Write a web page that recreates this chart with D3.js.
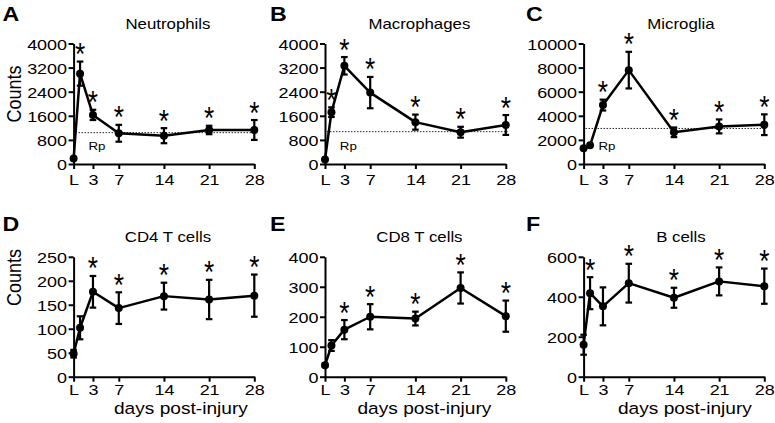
<!DOCTYPE html>
<html><head><meta charset="utf-8">
<script src="https://cdn.jsdelivr.net/npm/d3@7"></script>
<style>html,body{margin:0;padding:0;background:#fff;} svg{display:block;}</style>
</head><body><svg id="c" width="775" height="423"></svg>
<script>
// ---- data ----
const days = [0, 1, 3, 7, 14, 21, 28];
const xTickValues = [0, 3, 7, 14, 21, 28];
const xTickLabels = ["L", "3", "7", "14", "21", "28"];

const neutrophilsMean = [180, 3000, 1630, 1020, 940, 1130, 1130];
const neutrophilsErr  = [0, 400, 170, 280, 250, 140, 330];
const neutrophilsSig  = [0, 1, 1, 1, 1, 1, 1];
const neutrophilsRp   = 1040;

const macrophagesMean = [150, 1720, 3260, 2370, 1390, 1055, 1295];
const macrophagesErr  = [0, 160, 290, 520, 250, 180, 330];
const macrophagesSig  = [0, 1, 1, 1, 1, 1, 1];
const macrophagesRp   = 1073;

const microgliaMean = [1300, 1550, 4890, 7790, 2630, 3120, 3260];
const microgliaErr  = [0, 0, 450, 1520, 400, 580, 860];
const microgliaSig  = [0, 0, 1, 1, 1, 1, 1];
const microgliaRp   = 2950;

const cd4Mean = [48, 102, 177, 143, 168, 161, 169];
const cd4Err  = [8, 24, 33, 33, 28, 41, 44];
const cd4Sig  = [0, 0, 1, 1, 1, 1, 1];

const cd8Mean = [38, 104, 157, 200, 194, 296, 202];
const cd8Err  = [5, 18, 32, 42, 23, 52, 52];
const cd8Sig  = [0, 0, 1, 1, 1, 1, 1];

const bMean = [160, 418, 352, 468, 395, 477, 453];
const bErr  = [50, 80, 95, 97, 50, 70, 88];
const bSig  = [0, 1, 0, 1, 1, 1, 1];

const yTicksNeutrophils = [0, 800, 1600, 2400, 3200, 4000];
const yTicksMacrophages = [0, 800, 1600, 2400, 3200, 4000];
const yTicksMicroglia = [0, 2000, 4000, 6000, 8000, 10000];
const yTicksCd4 = [0, 50, 100, 150, 200, 250];
const yTicksCd8 = [0, 100, 200, 300, 400];
const yTicksB = [0, 200, 400, 600];

const titles = ["Neutrophils", "Macrophages", "Microglia", "CD4 T cells", "CD8 T cells", "B cells"];
const letters = ["A", "B", "C", "D", "E", "F"];
const xAxisTitle = "days post-injury";
const yAxisTitle = "Counts";
const rpLabel = "Rp";

// ---- layout ----
const svg = d3.select('#c');
const FONT = "'Liberation Sans', Arial, Helvetica, sans-serif";
const SX = 1.16;
const TICK_FS = 15.5;
const cols = [[73.6, 254.3], [325, 505.8], [583.6, 764.3]];
const rows = [[164, 43.5], [376.7, 256.8]];
const titleDx = [4, 4, 7];
const xTitleDx = [17, 9, 11];
const letterX = [2.5, 270, 526];
const letterY = [20.7, 230.7];
const titleY = [29.3, 241.7];
const xLabelDy = [20.5, 18.5];

const panels = [
  {mean: neutrophilsMean, err: neutrophilsErr, sig: neutrophilsSig, ticks: yTicksNeutrophils, rp: neutrophilsRp},
  {mean: macrophagesMean, err: macrophagesErr, sig: macrophagesSig, ticks: yTicksMacrophages, rp: macrophagesRp},
  {mean: microgliaMean, err: microgliaErr, sig: microgliaSig, ticks: yTicksMicroglia, rp: microgliaRp},
  {mean: cd4Mean, err: cd4Err, sig: cd4Sig, ticks: yTicksCd4},
  {mean: cd8Mean, err: cd8Err, sig: cd8Sig, ticks: yTicksCd8},
  {mean: bMean, err: bErr, sig: bSig, ticks: yTicksB}
];

function label(g, x, y, str, size, opts = {}) {
  return g.append('text')
    .attr('transform', `translate(${x},${y}) scale(${opts.sx || SX},1)` + (opts.rot ? ` rotate(${opts.rot})` : ''))
    .attr('text-anchor', opts.anchor || 'middle')
    .style('font-family', FONT)
    .style('font-size', size + 'px')
    .style('font-weight', opts.bold ? 'bold' : 'normal')
    .attr('fill', '#000')
    .text(str);
}

panels.forEach((p, i) => {
  const col = i % 3, row = Math.floor(i / 3);
  const x = d3.scaleLinear().domain([0, 28]).range(cols[col]);
  const y = d3.scaleLinear().domain([0, d3.max(p.ticks)]).range(rows[row]);
  const g = svg.append('g');

  // axes
  const ya = g.append('g').attr('transform', `translate(${x(0)},0)`)
    .call(d3.axisLeft(y).tickValues(p.ticks).tickSize(5).tickSizeOuter(0).tickFormat(d3.format('d')));
  ya.select('.domain').attr('stroke', '#000').attr('stroke-width', 2);
  ya.selectAll('.tick line').attr('stroke', '#000').attr('stroke-width', 2);
  ya.selectAll('.tick text').attr('x', null).attr('dy', null)
    .attr('transform', `translate(-6.5,5.5) scale(${SX},1)`)
    .style('font-family', FONT).style('font-size', TICK_FS + 'px').attr('fill', '#000');

  const xa = g.append('g').attr('transform', `translate(0,${y(0)})`)
    .call(d3.axisBottom(x).tickValues(xTickValues).tickSize(5).tickSizeOuter(0)
      .tickFormat((d, k) => xTickLabels[k]));
  xa.select('.domain').attr('stroke', '#000').attr('stroke-width', 2);
  xa.selectAll('.tick line').attr('stroke', '#000').attr('stroke-width', 2);
  xa.selectAll('.tick text').attr('y', null).attr('dy', null)
    .attr('transform', `translate(0,${xLabelDy[row]}) scale(${SX},1)`)
    .style('font-family', FONT).style('font-size', TICK_FS + 'px').attr('fill', '#000');

  // reference line
  if (p.rp !== undefined) {
    g.append('line')
      .attr('x1', x(0.3)).attr('x2', x(28.3))
      .attr('y1', y(p.rp)).attr('y2', y(p.rp))
      .attr('stroke', '#222').attr('stroke-width', 1).attr('stroke-dasharray', '1.5,1.5');
    label(g, x(2.3), y(0) - 14, rpLabel, 11.5, {anchor: 'start'});
  }

  const pts = days.map((d, k) => ({d, m: p.mean[k], e: p.err[k], s: p.sig[k]}));

  // error bars
  const eb = g.append('g').attr('stroke', '#000').attr('stroke-width', 2.2);
  pts.filter(q => q.e > 0).forEach(q => {
    eb.append('line').attr('x1', x(q.d)).attr('x2', x(q.d)).attr('y1', y(q.m - q.e)).attr('y2', y(q.m + q.e));
    [q.m - q.e, q.m + q.e].forEach(v => {
      eb.append('line').attr('x1', x(q.d) - 3.3).attr('x2', x(q.d) + 3.3).attr('y1', y(v)).attr('y2', y(v));
    });
  });

  // line
  g.append('path').datum(pts)
    .attr('d', d3.line().x(q => x(q.d)).y(q => y(q.m)))
    .attr('fill', 'none').attr('stroke', '#000').attr('stroke-width', 2.5).attr('stroke-linejoin', 'round');

  // points
  g.selectAll('circle.pt').data(pts).join('circle').attr('class', 'pt')
    .attr('cx', q => x(q.d)).attr('cy', q => y(q.m)).attr('r', 4).attr('fill', '#000');

  // significance asterisks
  pts.filter(q => q.s).forEach(q => {
    label(g, x(q.d), y(q.m + q.e) + 3.5, '*', 31, {sx: 0.85});
  });

  // titles and letters
  label(g, x(14) + titleDx[col], titleY[row], titles[i], 14.5);
  label(g, letterX[col], letterY[row], letters[i], 20, {anchor: 'start', bold: true});
  if (row === 1) label(g, x(14) + xTitleDx[col], 414, xAxisTitle, 16.5);
  if (col === 0) label(g, 20.5, row === 0 ? 94 : 277.5, yAxisTitle, 18, {sx: 1.1, rot: -90});
});
</script></body></html>
